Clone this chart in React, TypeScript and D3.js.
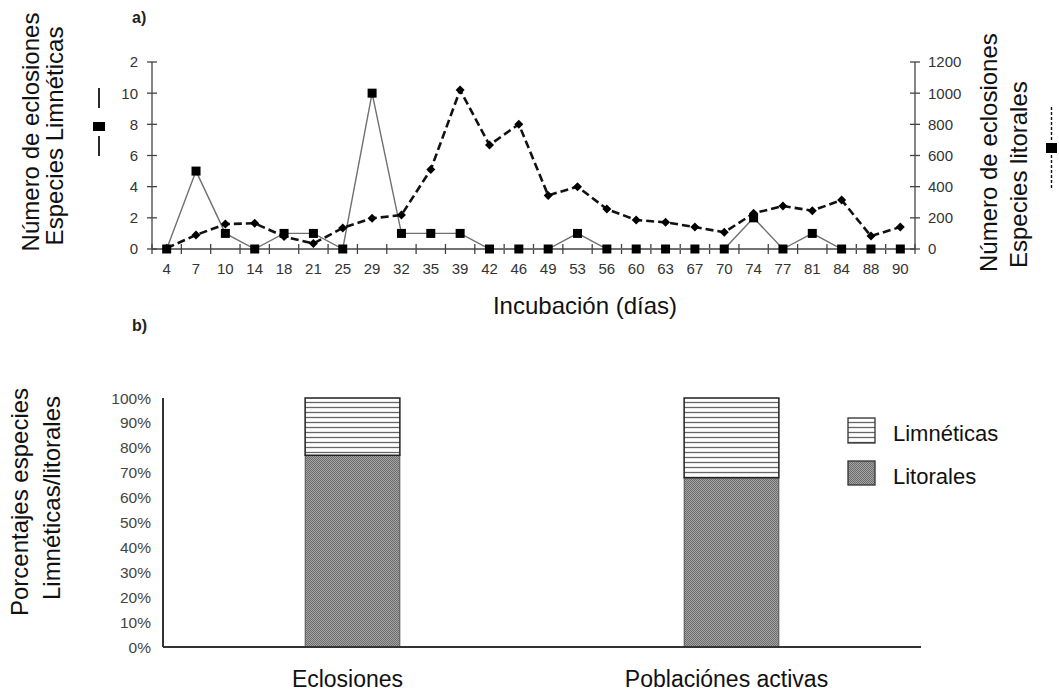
import React from "react";
import * as d3 from "d3";

const days = ["4","7","10","14","18","21","25","29","32","35","39","42","46","49","53","56","60","63","67","70","74","77","81","84","88","90"];
const limneticas = [0,5,1,0,1,1,0,10,1,1,1,0,0,0,1,0,0,0,0,0,2,0,1,0,0,0];
const litorales = [5,90,160,165,80,35,135,197,218,510,1020,667,801,344,400,256,186,171,141,107,229,276,246,314,83,141];
const leftTicks = [0,2,4,6,8,10,12];
const leftTickLabels = ["0","2","4","6","8","10","2"];
const rightTicks = [0,200,400,600,800,1000,1200];

const barCats = ["Eclosiones", "Poblaciónes activas"];
const litoralPct = [77, 68];
const limneticaPct = [23, 32];
const pctTicks = [0,10,20,30,40,50,60,70,80,90,100];

const FONT = "'Liberation Sans', Arial, sans-serif";

export default function App() {
  const x = d3.scaleBand<string>().domain(days).range([152, 915]).padding(0);
  const yL = d3.scaleLinear().domain([0, 12]).range([249, 62]);
  const yR = d3.scaleLinear().domain([0, 1200]).range([249, 62]);
  const cx = (d: string) => (x(d) as number) + x.bandwidth() / 2;

  const limLine = d3.line<number>().x((_, i) => cx(days[i])).y((v) => yL(v));
  const litLine = d3.line<number>().x((_, i) => cx(days[i])).y((v) => yR(v));

  const xb = d3.scaleBand<string>().domain(barCats).range([163, 921]).paddingInner(0.75).paddingOuter(0.375);
  const yb = d3.scaleLinear().domain([0, 100]).range([647, 398]);

  const boundaries = days.map((d) => x(d) as number).concat([915]);
  const tickStyle = { fontFamily: FONT, fontSize: 15, fill: "#333" } as const;

  return (
    <svg width={1059} height={691} style={{ position: "absolute", left: 0, top: 0, background: "#fff" }}>
      <defs>
        <pattern id="hatch" width="6" height="5" patternUnits="userSpaceOnUse">
          <rect width="6" height="5" fill="#fff" />
          <line x1="0" y1="2.5" x2="6" y2="2.5" stroke="#666" strokeWidth="1.3" />
        </pattern>
        <pattern id="dots" width="2" height="2" patternUnits="userSpaceOnUse">
          <rect width="2" height="2" fill="#a4a4a4" />
          <rect width="1" height="1" fill="#6c6c6c" />
          <rect x="1" y="1" width="1" height="1" fill="#6c6c6c" />
        </pattern>
      </defs>
      <rect width={1059} height={691} fill="#fff" />

      {/* ---------- Panel a ---------- */}
      <text x={132} y={23} fontFamily={FONT} fontWeight="bold" fontSize={16} fill="#222">a)</text>

      {/* left axis */}
      <line x1={152} x2={152} y1={yL(12)} y2={yL(0)} stroke="#444" strokeWidth={1.3} />
      {leftTicks.map((t, i) => (
        <g key={"lt" + i}>
          <line x1={147} x2={157} y1={yL(t)} y2={yL(t)} stroke="#444" strokeWidth={1.3} />
          <text x={138} y={yL(t)} dy="0.36em" textAnchor="end" {...tickStyle}>{leftTickLabels[i]}</text>
        </g>
      ))}
      {/* right axis */}
      <line x1={915} x2={915} y1={yR(1200)} y2={yR(0)} stroke="#444" strokeWidth={1.3} />
      {rightTicks.map((t) => (
        <g key={"rt" + t}>
          <line x1={910} x2={920} y1={yR(t)} y2={yR(t)} stroke="#444" strokeWidth={1.3} />
          <text x={928} y={yR(t)} dy="0.36em" textAnchor="start" {...tickStyle}>{t}</text>
        </g>
      ))}
      {/* x axis */}
      <line x1={152} x2={915} y1={249} y2={249} stroke="#444" strokeWidth={1.3} />
      {boundaries.map((b, i) => (
        <line key={"xt" + i} x1={b} x2={b} y1={244} y2={254} stroke="#444" strokeWidth={1.3} />
      ))}
      {days.map((d) => (
        <text key={"xl" + d} x={cx(d)} y={274} textAnchor="middle" {...tickStyle}>{d}</text>
      ))}
      <text x={585} y={314} textAnchor="middle" fontFamily={FONT} fontSize={24} fill="#111">Incubación (días)</text>

      {/* lines */}
      <path d={limLine(limneticas) as string} fill="none" stroke="#707070" strokeWidth={1.4} />
      <path d={litLine(litorales) as string} fill="none" stroke="#111" strokeWidth={2.6} strokeDasharray="8,4" />
      {limneticas.map((v, i) => (
        <rect key={"sq" + i} x={cx(days[i]) - 4.5} y={yL(v) - 4.5} width={9} height={9} fill="#000" />
      ))}
      {litorales.map((v, i) => (
        <path key={"dm" + i} d={`M${cx(days[i])},${yR(v) - 4.5}L${cx(days[i]) + 4.5},${yR(v)}L${cx(days[i])},${yR(v) + 4.5}L${cx(days[i]) - 4.5},${yR(v)}Z`} fill="#000" />
      ))}

      {/* left title */}
      <text transform="translate(39,132) rotate(-90)" textAnchor="middle" fontFamily={FONT} fontSize={24} fill="#111">Número de eclosiones</text>
      <text transform="translate(63,136) rotate(-90)" textAnchor="middle" fontFamily={FONT} fontSize={24} fill="#111">Especies Limnéticas</text>
      <line x1={99} x2={99} y1={88} y2={108} stroke="#111" strokeWidth={1.8} />
      <rect x={93} y={122} width={12} height={9} fill="#000" />
      <line x1={99} x2={99} y1={136} y2={156} stroke="#111" strokeWidth={1.8} />

      {/* right title */}
      <text transform="translate(997,272) rotate(-90)" textAnchor="start" fontFamily={FONT} fontSize={24} fill="#111">Número de eclosiones</text>
      <text transform="translate(1027,268) rotate(-90)" textAnchor="start" fontFamily={FONT} fontSize={24} fill="#111">Especies litorales</text>
      <line x1={1051.5} x2={1051.5} y1={107} y2={142} stroke="#111" strokeWidth={1.4} strokeDasharray="3,2" />
      <rect x={1046} y={143} width={11} height={10} fill="#000" />
      <line x1={1051.5} x2={1051.5} y1={155} y2={190} stroke="#111" strokeWidth={1.4} strokeDasharray="3,2" />

      {/* ---------- Panel b ---------- */}
      <text x={132} y={331} fontFamily={FONT} fontWeight="bold" fontSize={16} fill="#222">b)</text>

      {barCats.map((c, i) => {
        const bx = xb(c) as number;
        const w = xb.bandwidth();
        return (
          <g key={"bar" + c}>
            <rect x={bx} y={yb(litoralPct[i])} width={w} height={yb(0) - yb(litoralPct[i])} fill="url(#dots)" stroke="#444" strokeWidth={0.8} />
            <rect x={bx} y={yb(100)} width={w} height={yb(litoralPct[i]) - yb(100)} fill="url(#hatch)" stroke="#222" strokeWidth={1.5} />
            <text x={bx + w / 2 - 5} y={687} textAnchor="middle" fontFamily={FONT} fontSize={23} fill="#111">{c}</text>
          </g>
        );
      })}
      <line x1={163} x2={163} y1={yb(100)} y2={yb(0)} stroke="#333" strokeWidth={2} />
      <line x1={163} x2={921} y1={yb(0)} y2={yb(0)} stroke="#333" strokeWidth={2} />
      {pctTicks.map((t) => (
        <text key={"pt" + t} x={151} y={yb(t)} dy="0.36em" textAnchor="end" fontFamily={FONT} fontSize={15.5} fill="#444">{t + "%"}</text>
      ))}

      <text transform="translate(28,502) rotate(-90)" textAnchor="middle" fontFamily={FONT} fontSize={24} fill="#111">Porcentajes  especies</text>
      <text transform="translate(60,498) rotate(-90)" textAnchor="middle" fontFamily={FONT} fontSize={24} fill="#111">Limnéticas/litorales</text>

      {/* legend */}
      <rect x={848} y={418} width={27} height={25} fill="url(#hatch)" stroke="#333" strokeWidth={1.3} />
      <text x={893} y={441} fontFamily={FONT} fontSize={22} fill="#111">Limnéticas</text>
      <rect x={848} y={461} width={27} height={24} fill="url(#dots)" stroke="#333" strokeWidth={1.3} />
      <text x={893} y={484} fontFamily={FONT} fontSize={22} fill="#111">Litorales</text>
    </svg>
  );
}
